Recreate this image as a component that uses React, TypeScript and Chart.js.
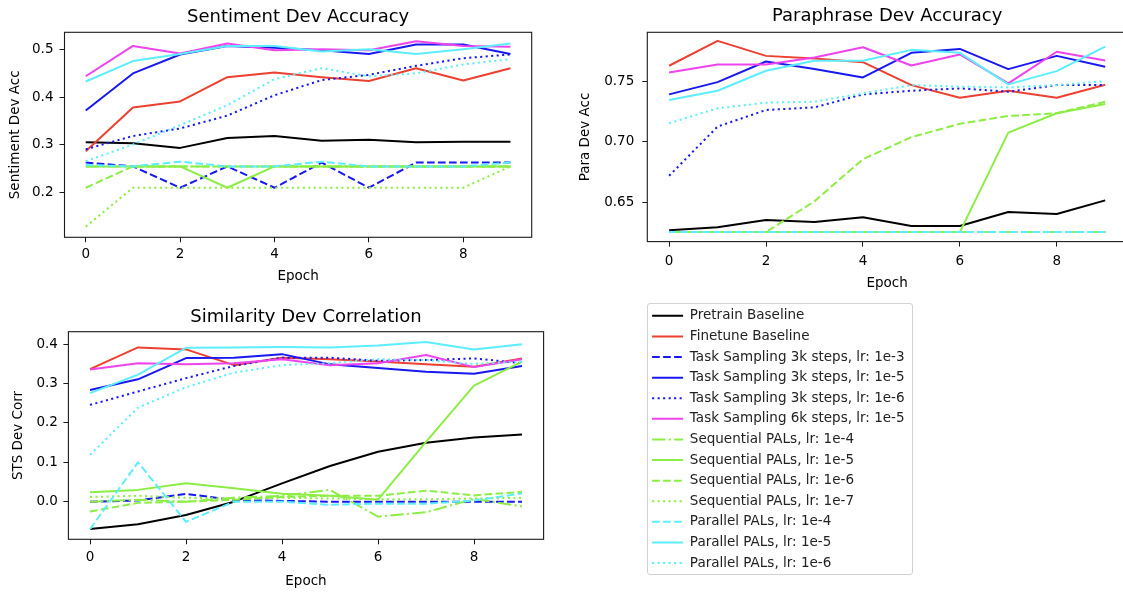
import React, { useEffect, useRef } from "react";
import { Chart, registerables } from "chart.js";

Chart.register(...registerables);

const FONT = "'DejaVu Sans', 'Liberation Sans', sans-serif";
Chart.defaults.font.family = FONT;

const epochs = [0, 1, 2, 3, 4, 5, 6, 7, 8, 9];
const xTickValues = [0, 2, 4, 6, 8];

const seriesLabels = [
  "Pretrain Baseline",
  "Finetune Baseline",
  "Task Sampling 3k steps, lr: 1e-3",
  "Task Sampling 3k steps, lr: 1e-5",
  "Task Sampling 3k steps, lr: 1e-6",
  "Task Sampling 6k steps, lr: 1e-5",
  "Sequential PALs, lr: 1e-4",
  "Sequential PALs, lr: 1e-5",
  "Sequential PALs, lr: 1e-6",
  "Sequential PALs, lr: 1e-7",
  "Parallel PALs, lr: 1e-4",
  "Parallel PALs, lr: 1e-5",
  "Parallel PALs, lr: 1e-6",
];
const seriesColors = [
  "#000000", "#ee4030", "#1818f0", "#1818f0", "#1818f0", "#ee44ee",
  "#8cee44", "#8cee44", "#8cee44", "#8cee44", "#5ceeff", "#5ceeff", "#5ceeff",
];
const seriesStyles = [
  "solid", "solid", "dashed", "solid", "dotted", "solid",
  "dashdot", "solid", "dashed", "dotted", "dashed", "solid", "dotted",
];

// ---- Sentiment Dev Accuracy ----
const sentPretrain = [0.305, 0.303, 0.293, 0.314, 0.318, 0.308, 0.31, 0.305, 0.306, 0.306];
const sentFinetune = [0.286, 0.378, 0.391, 0.442, 0.452, 0.442, 0.434, 0.461, 0.435, 0.461];
const sentTs3kLr3 = [0.262, 0.254, 0.209, 0.254, 0.209, 0.262, 0.209, 0.262, 0.262, 0.262];
const sentTs3kLr5 = [0.372, 0.45, 0.49, 0.508, 0.504, 0.499, 0.491, 0.511, 0.511, 0.491];
const sentTs3kLr6 = [0.29, 0.318, 0.334, 0.361, 0.404, 0.436, 0.447, 0.466, 0.482, 0.49];
const sentTs6kLr5 = [0.444, 0.508, 0.492, 0.513, 0.499, 0.501, 0.499, 0.518, 0.508, 0.506];
const sentSeqLr4 = [0.254, 0.254, 0.254, 0.254, 0.254, 0.254, 0.254, 0.254, 0.254, 0.254];
const sentSeqLr5 = [0.254, 0.254, 0.254, 0.209, 0.254, 0.254, 0.254, 0.254, 0.254, 0.254];
const sentSeqLr6 = [0.209, 0.254, 0.254, 0.254, 0.254, 0.254, 0.254, 0.254, 0.254, 0.254];
const sentSeqLr7 = [0.127, 0.209, 0.209, 0.209, 0.209, 0.209, 0.209, 0.209, 0.209, 0.254];
const sentParLr4 = [0.257, 0.254, 0.264, 0.254, 0.254, 0.264, 0.254, 0.254, 0.254, 0.262];
const sentParLr5 = [0.433, 0.476, 0.491, 0.508, 0.508, 0.496, 0.501, 0.491, 0.501, 0.513];
const sentParLr6 = [0.265, 0.3, 0.341, 0.383, 0.438, 0.461, 0.444, 0.45, 0.469, 0.48];
const sentTicks = [0.2, 0.3, 0.4, 0.5];
const sentTickLabels = ["0.2", "0.3", "0.4", "0.5"];

// ---- Paraphrase Dev Accuracy ----
const paraPretrain = [0.6265, 0.629, 0.635, 0.6334, 0.6373, 0.63, 0.63, 0.6417, 0.64, 0.6514];
const paraFinetune = [0.7633, 0.784, 0.7715, 0.7693, 0.7663, 0.7472, 0.7367, 0.7425, 0.7367, 0.7475];
const paraTs3kLr3 = [0.625, 0.625, 0.625, 0.625, 0.625, 0.625, 0.625, 0.625, 0.625, 0.625];
const paraTs3kLr5 = [0.7395, 0.7497, 0.7668, 0.7605, 0.7536, 0.774, 0.7773, 0.7605, 0.7715, 0.7624];
const paraTs3kLr6 = [0.6718, 0.7127, 0.7265, 0.7287, 0.7395, 0.7425, 0.7445, 0.7417, 0.7472, 0.7472];
const paraTs6kLr5 = [0.7577, 0.7644, 0.7644, 0.7702, 0.7787, 0.7635, 0.7727, 0.7486, 0.7749, 0.7677];
const paraSeqLr4 = [0.625, 0.625, 0.625, 0.625, 0.625, 0.625, 0.625, 0.625, 0.625, 0.625];
const paraSeqLr5 = [0.625, 0.625, 0.625, 0.625, 0.625, 0.625, 0.625, 0.7077, 0.7238, 0.7315];
const paraSeqLr6 = [0.625, 0.625, 0.625, 0.6506, 0.6856, 0.7039, 0.715, 0.7215, 0.7238, 0.7334];
const paraSeqLr7 = [0.625, 0.625, 0.625, 0.625, 0.625, 0.625, 0.625, 0.625, 0.625, 0.625];
const paraParLr4 = [0.625, 0.625, 0.625, 0.625, 0.625, 0.625, 0.625, 0.625, 0.625, 0.625];
const paraParLr5 = [0.7348, 0.7425, 0.7591, 0.7674, 0.7674, 0.7765, 0.774, 0.7478, 0.7588, 0.7792];
const paraParLr6 = [0.7155, 0.7279, 0.7326, 0.7334, 0.7403, 0.7472, 0.7459, 0.7453, 0.7472, 0.7505];
const paraTicks = [0.65, 0.7, 0.75];
const paraTickLabels = ["0.65", "0.70", "0.75"];

// ---- Similarity Dev Correlation ----
const stsPretrain = [-0.0695, -0.0576, -0.034, 0.0, 0.0466, 0.0907, 0.127, 0.15, 0.163, 0.171];
const stsFinetune = [0.337, 0.392, 0.387, 0.347, 0.366, 0.362, 0.356, 0.349, 0.343, 0.364];
const stsTs3kLr3 = [0.0, 0.003, 0.02, 0.004, 0.002, 0.0, 0.0, 0.0, 0.0, 0.0];
const stsTs3kLr5 = [0.284, 0.311, 0.365, 0.366, 0.375, 0.349, 0.34, 0.33, 0.325, 0.345];
const stsTs3kLr6 = [0.246, 0.28, 0.314, 0.345, 0.366, 0.366, 0.358, 0.36, 0.364, 0.352];
const stsTs6kLr5 = [0.336, 0.352, 0.349, 0.352, 0.362, 0.347, 0.352, 0.373, 0.342, 0.362];
const stsSeqLr4 = [0.0, 0.005, 0.0, 0.01, 0.015, 0.03, -0.038, -0.027, 0.007, -0.012];
const stsSeqLr5 = [0.024, 0.03, 0.047, 0.034, 0.02, 0.015, 0.005, 0.152, 0.295, 0.356];
const stsSeqLr6 = [-0.025, -0.003, 0.0, 0.005, 0.012, 0.015, 0.015, 0.028, 0.016, 0.025];
const stsSeqLr7 = [0.012, 0.015, 0.01, 0.008, 0.01, 0.008, 0.006, 0.006, 0.008, 0.01];
const stsParLr4 = [-0.07, 0.1, -0.051, 0.0, 0.0, -0.008, -0.005, -0.005, 0.003, 0.021];
const stsParLr5 = [0.276, 0.323, 0.391, 0.392, 0.393, 0.392, 0.397, 0.406, 0.387, 0.4];
const stsParLr6 = [0.119, 0.239, 0.291, 0.328, 0.347, 0.352, 0.362, 0.36, 0.35, 0.356];
const stsTicks = [0.0, 0.1, 0.2, 0.3, 0.4];
const stsTickLabels = ["0.0", "0.1", "0.2", "0.3", "0.4"];

const sentSeries = [sentPretrain, sentFinetune, sentTs3kLr3, sentTs3kLr5, sentTs3kLr6, sentTs6kLr5, sentSeqLr4, sentSeqLr5, sentSeqLr6, sentSeqLr7, sentParLr4, sentParLr5, sentParLr6];
const paraSeries = [paraPretrain, paraFinetune, paraTs3kLr3, paraTs3kLr5, paraTs3kLr6, paraTs6kLr5, paraSeqLr4, paraSeqLr5, paraSeqLr6, paraSeqLr7, paraParLr4, paraParLr5, paraParLr6];
const stsSeries = [stsPretrain, stsFinetune, stsTs3kLr3, stsTs3kLr5, stsTs3kLr6, stsTs6kLr5, stsSeqLr4, stsSeqLr5, stsSeqLr6, stsSeqLr7, stsParLr4, stsParLr5, stsParLr6];

const dashPatterns: Record<string, number[]> = {
  solid: [],
  dashed: [7.7, 3.3],
  dotted: [2.1, 3.4],
  dashdot: [13.3, 3.3, 2.1, 3.3],
};

type Geo = {
  left: number; top: number; width: number; height: number;
  area: { l: number; t: number; r: number; b: number };
  titleY: number; xTickY: number; xTitleY: number; yTitleX: number; yTickGap: number;
};

const geoSent: Geo = { left: 0, top: 0, width: 560, height: 292, area: { l: 64.5, t: 32.3, r: 531.7, b: 237.3 }, titleY: 16.7, xTickY: 253.3, xTitleY: 275, yTitleX: 15, yTickGap: 11 };
const geoPara: Geo = { left: 570, top: 0, width: 570, height: 295, area: { l: 647.3, t: 32.3, r: 1127, b: 241.6 }, titleY: 15.8, xTickY: 260, xTitleY: 281.7, yTitleX: 585.9, yTickGap: 13 };
const geoSts: Geo = { left: 0, top: 295, width: 560, height: 297, area: { l: 68.4, t: 331.7, r: 543.6, b: 539.3 }, titleY: 316.7, xTickY: 556.7, xTitleY: 580, yTitleX: 18, yTickGap: 10.5 };

const framePlugin = {
  id: "frame",
  afterDatasetsDraw(chart: any) {
    const { ctx, chartArea: a } = chart;
    ctx.save();
    ctx.strokeStyle = "#1a1a1a";
    ctx.lineWidth = 1.1;
    ctx.setLineDash([]);
    ctx.strokeRect(a.left, a.top, a.right - a.left, a.bottom - a.top);
    ctx.restore();
  },
};

function buildDatasets(series: number[][]) {
  return series.map((vals, i) => ({
    label: seriesLabels[i],
    data: epochs.map((e, j) => ({ x: e, y: vals[j] })),
    borderColor: seriesColors[i],
    backgroundColor: seriesColors[i],
    borderWidth: 2,
    borderDash: dashPatterns[seriesStyles[i]],
    borderCapStyle: "butt",
    borderJoinStyle: "round",
    pointRadius: 0,
    pointHoverRadius: 0,
    tension: 0,
    fill: false,
    order: series.length - i,
  }));
}

// small downward nudge so the glyphs' visual centres land where the reference has them
const TITLE_SHIFT = 2.3;
const XTITLE_SHIFT = 2.5;
const TICK_SHIFT = 1;

function buildOptions(geo: Geo, titleText: string, yTitle: string, yMin: number, yMax: number, yTicks: number[], yTickLabels: string[]) {
  const lh = 13.5 * 1.2;
  const tlh = 18 * 1.2;
  const titlePadTop = geo.titleY - 1.8 + TITLE_SHIFT - geo.top - tlh / 2;
  const titlePadBottom = geo.area.t - geo.top - titlePadTop - tlh;
  const xTickPad = geo.xTickY + TICK_SHIFT - geo.area.b - 5 - lh / 2;
  const xTitlePadBottom = geo.top + geo.height - (geo.xTitleY - 1.16 + XTITLE_SHIFT) - lh / 2;
  const yTitlePadTop = geo.yTitleX - geo.left - lh / 2;
  const grid = { display: true, drawOnChartArea: false, drawTicks: true, tickLength: 5, color: "#1a1a1a", lineWidth: 1 };
  const tickFont = { family: FONT, size: 13.5 };
  return {
    responsive: false,
    maintainAspectRatio: false,
    animation: false,
    devicePixelRatio: 1,
    events: [],
    layout: { padding: { left: 0, top: 0, bottom: 0, right: geo.left + geo.width - geo.area.r } },
    plugins: {
      legend: { display: false },
      tooltip: { enabled: false },
      title: {
        display: true,
        text: titleText,
        color: "#000",
        fullSize: false,
        font: { family: FONT, size: 18, weight: "normal", lineHeight: 1.2 },
        padding: { top: titlePadTop, bottom: titlePadBottom },
      },
    },
    scales: {
      x: {
        type: "linear",
        min: -0.45,
        max: 9.45,
        afterBuildTicks: (s: any) => { s.ticks = xTickValues.map((v) => ({ value: v })); },
        afterFit: (s: any) => { s.height = geo.top + geo.height - geo.area.b; },
        ticks: { color: "#000", font: tickFont, padding: xTickPad, maxRotation: 0, autoSkip: false, callback: (v: any) => String(v) },
        grid,
        border: { display: false },
        title: { display: true, text: "Epoch", color: "#000", font: { family: FONT, size: 13.5, lineHeight: 1.2 }, padding: { top: 0, bottom: xTitlePadBottom } },
      },
      y: {
        type: "linear",
        min: yMin,
        max: yMax,
        afterBuildTicks: (s: any) => { s.ticks = yTicks.map((v) => ({ value: v })); },
        afterFit: (s: any) => { s.width = geo.area.l - geo.left; },
        ticks: { color: "#000", font: tickFont, padding: geo.yTickGap - 5, autoSkip: false, callback: (_v: any, i: number) => yTickLabels[i] },
        grid,
        border: { display: false },
        title: { display: true, text: yTitle, color: "#000", font: { family: FONT, size: 13.5, lineHeight: 1.2 }, padding: { top: yTitlePadTop, bottom: 0 } },
      },
    },
  };
}

const legendItems = seriesLabels.map((text, i) => ({
  text,
  fillStyle: seriesColors[i],
  strokeStyle: seriesColors[i],
  fontColor: "#222",
  lineWidth: 2,
  lineDash: dashPatterns[seriesStyles[i]],
  lineCap: "butt",
  pointStyle: "line",
  hidden: false,
  datasetIndex: i,
}));

export default function App() {
  const sentRef = useRef<HTMLCanvasElement>(null);
  const paraRef = useRef<HTMLCanvasElement>(null);
  const stsRef = useRef<HTMLCanvasElement>(null);
  const legRef = useRef<HTMLCanvasElement>(null);

  useEffect(() => {
    const charts: Chart[] = [];
    charts.push(new Chart(sentRef.current!, {
      type: "line",
      data: { datasets: buildDatasets(sentSeries) as any },
      options: buildOptions(geoSent, "Sentiment Dev Accuracy", "Sentiment Dev Acc", 0.1045, 0.5367, sentTicks, sentTickLabels) as any,
      plugins: [framePlugin],
    }));
    charts.push(new Chart(paraRef.current!, {
      type: "line",
      data: { datasets: buildDatasets(paraSeries) as any },
      options: buildOptions(geoPara, "Paraphrase Dev Accuracy", "Para Dev Acc", 0.6171, 0.7911, paraTicks, paraTickLabels) as any,
      plugins: [framePlugin],
    }));
    charts.push(new Chart(stsRef.current!, {
      type: "line",
      data: { datasets: buildDatasets(stsSeries) as any },
      options: buildOptions(geoSts, "Similarity Dev Correlation", "STS Dev Corr", -0.0956, 0.432, stsTicks, stsTickLabels) as any,
      plugins: [framePlugin],
    }));
    charts.push(new Chart(legRef.current!, {
      type: "line",
      data: { datasets: [] },
      options: {
        responsive: false,
        animation: false,
        devicePixelRatio: 1,
        events: [],
        layout: { padding: 0 },
        scales: { x: { display: false }, y: { display: false } },
        plugins: {
          tooltip: { enabled: false },
          title: { display: false },
          legend: {
            display: true,
            position: "left",
            align: "start",
            labels: {
              color: "#222",
              font: { family: FONT, size: 13.5 },
              padding: 7.1,
              usePointStyle: true,
              pointStyleWidth: 31,
              generateLabels: () => legendItems as any,
            },
          },
        },
      } as any,
    }));
    return () => charts.forEach((c) => c.destroy());
  }, []);

  const canvasStyle = (g: { left: number; top: number; width: number; height: number }) => ({
    position: "absolute" as const,
    left: g.left,
    top: g.top,
    width: g.width,
    height: g.height,
  });

  const legGeo = { left: 645, top: 301.5, width: 640, height: 290 };

  return (
    <div style={{ position: "fixed", left: 0, top: 0, width: 1123, height: 592, overflow: "hidden", background: "#fff" }}>
      <div style={{ position: "absolute", left: 647, top: 303, width: 266, height: 272, border: "1px solid #d2d2d2", borderRadius: 3, boxSizing: "border-box" }} />
      <canvas ref={sentRef} width={geoSent.width} height={geoSent.height} style={canvasStyle(geoSent)} />
      <canvas ref={paraRef} width={geoPara.width} height={geoPara.height} style={canvasStyle(geoPara)} />
      <canvas ref={stsRef} width={geoSts.width} height={geoSts.height} style={canvasStyle(geoSts)} />
      <canvas ref={legRef} width={legGeo.width} height={legGeo.height} style={canvasStyle(legGeo)} />
    </div>
  );
}
